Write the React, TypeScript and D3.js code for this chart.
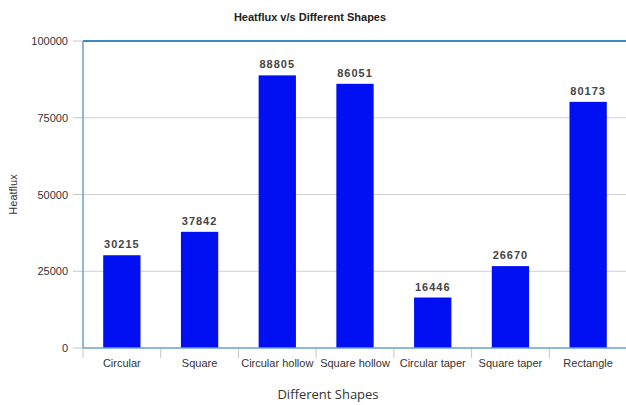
import React, { useEffect, useRef } from 'react';
import * as d3 from 'd3';

const shapes = ['Circular', 'Square', 'Circular hollow', 'Square hollow', 'Circular taper', 'Square taper', 'Rectangle'];
const heatflux = [30215, 37842, 88805, 86051, 16446, 26670, 80173];
const yTicks = [0, 25000, 50000, 75000, 100000];

const App = () => {
  const ref = useRef<SVGSVGElement>(null);

  useEffect(() => {
    const svg = d3.select(ref.current);
    svg.selectAll('*').remove();

    const width = 626;
    const height = 405;
    const margin = { top: 41, right: -1, bottom: 57, left: 83 };
    const innerW = width - margin.left - margin.right;
    const innerH = height - margin.top - margin.bottom;

    const x = d3.scaleBand<string>().domain(shapes).range([0, innerW]).padding(0);
    const y = d3.scaleLinear().domain([0, 100000]).range([innerH, 0]);

    const font = '"Liberation Sans", Arial, sans-serif';

    svg.append('text')
      .attr('x', 310)
      .attr('y', 21)
      .attr('text-anchor', 'middle')
      .attr('font-family', font)
      .attr('font-size', 11)
      .attr('font-weight', 'bold')
      .attr('fill', '#222')
      .text('Heatflux v/s Different Shapes');

    const g = svg.append('g').attr('transform', `translate(${margin.left},${margin.top})`);

    // grid lines
    g.selectAll('.grid')
      .data(yTicks.filter(d => d > 0 && d < 100000))
      .enter()
      .append('line')
      .attr('x1', 0)
      .attr('x2', innerW)
      .attr('y1', d => y(d))
      .attr('y2', d => y(d))
      .attr('stroke', '#d0d0d0')
      .attr('stroke-width', 1);

    // y ticks + labels
    g.selectAll('.ytick')
      .data(yTicks)
      .enter()
      .append('line')
      .attr('x1', -10)
      .attr('x2', 0)
      .attr('y1', d => y(d))
      .attr('y2', d => y(d))
      .attr('stroke', '#c8c8c8');

    g.selectAll('.ylab')
      .data(yTicks)
      .enter()
      .append('text')
      .attr('x', -15)
      .attr('y', d => y(d) + 4)
      .attr('text-anchor', 'end')
      .attr('font-family', font)
      .attr('font-size', 11)
      .attr('fill', '#333')
      .text(d => d);

    // bars
    const barW = x.bandwidth() * 0.48;
    g.selectAll('.bar')
      .data(heatflux)
      .enter()
      .append('rect')
      .attr('x', (d, i) => x(shapes[i])! + (x.bandwidth() - barW) / 2)
      .attr('y', d => y(d))
      .attr('width', barW)
      .attr('height', d => innerH - y(d))
      .attr('fill', '#0010f2');

    g.selectAll('.val')
      .data(heatflux)
      .enter()
      .append('text')
      .attr('x', (d, i) => x(shapes[i])! + x.bandwidth() / 2)
      .attr('y', d => y(d) - 7)
      .attr('text-anchor', 'middle')
      .attr('font-family', font)
      .attr('font-size', 11)
      .attr('font-weight', 'bold')
      .attr('letter-spacing', 1)
      .attr('fill', '#444')
      .text(d => d);

    // x ticks + labels
    g.selectAll('.xtick')
      .data(d3.range(shapes.length + 1))
      .enter()
      .append('line')
      .attr('x1', i => i * x.bandwidth())
      .attr('x2', i => i * x.bandwidth())
      .attr('y1', innerH)
      .attr('y2', innerH + 10)
      .attr('stroke', '#c8c8c8');

    g.selectAll('.xlab')
      .data(shapes)
      .enter()
      .append('text')
      .attr('x', d => x(d)! + x.bandwidth() / 2)
      .attr('y', innerH + 19)
      .attr('text-anchor', 'middle')
      .attr('font-family', font)
      .attr('font-size', 11)
      .attr('fill', '#333')
      .text(d => d);

    // frame: top border, left axis, bottom axis
    g.append('line')
      .attr('x1', 0).attr('x2', innerW)
      .attr('y1', 0).attr('y2', 0)
      .attr('stroke', '#3f8ac4')
      .attr('stroke-width', 2);
    g.append('line')
      .attr('x1', 0).attr('x2', 0)
      .attr('y1', 0).attr('y2', innerH)
      .attr('stroke', '#6aa0c8')
      .attr('stroke-width', 1.5);
    g.append('line')
      .attr('x1', 0).attr('x2', innerW)
      .attr('y1', innerH).attr('y2', innerH)
      .attr('stroke', '#6aa0c8')
      .attr('stroke-width', 1.5);

    // axis titles
    svg.append('text')
      .attr('transform', `translate(17,${margin.top + innerH / 2}) rotate(-90)`)
      .attr('text-anchor', 'middle')
      .attr('font-family', font)
      .attr('font-size', 11)
      .attr('fill', '#333')
      .text('Heatflux');

    svg.append('text')
      .attr('x', 328)
      .attr('y', 399)
      .attr('text-anchor', 'middle')
      .attr('font-family', '"Open Sans", sans-serif')
      .attr('font-size', 13)
      .attr('fill', '#333')
      .text('Different Shapes');
  }, []);

  return (
    <svg
      ref={ref}
      width={626}
      height={405}
      style={{ position: 'absolute', left: 0, top: 0, background: '#fff' }}
    ></svg>
  );
};

export default App;
